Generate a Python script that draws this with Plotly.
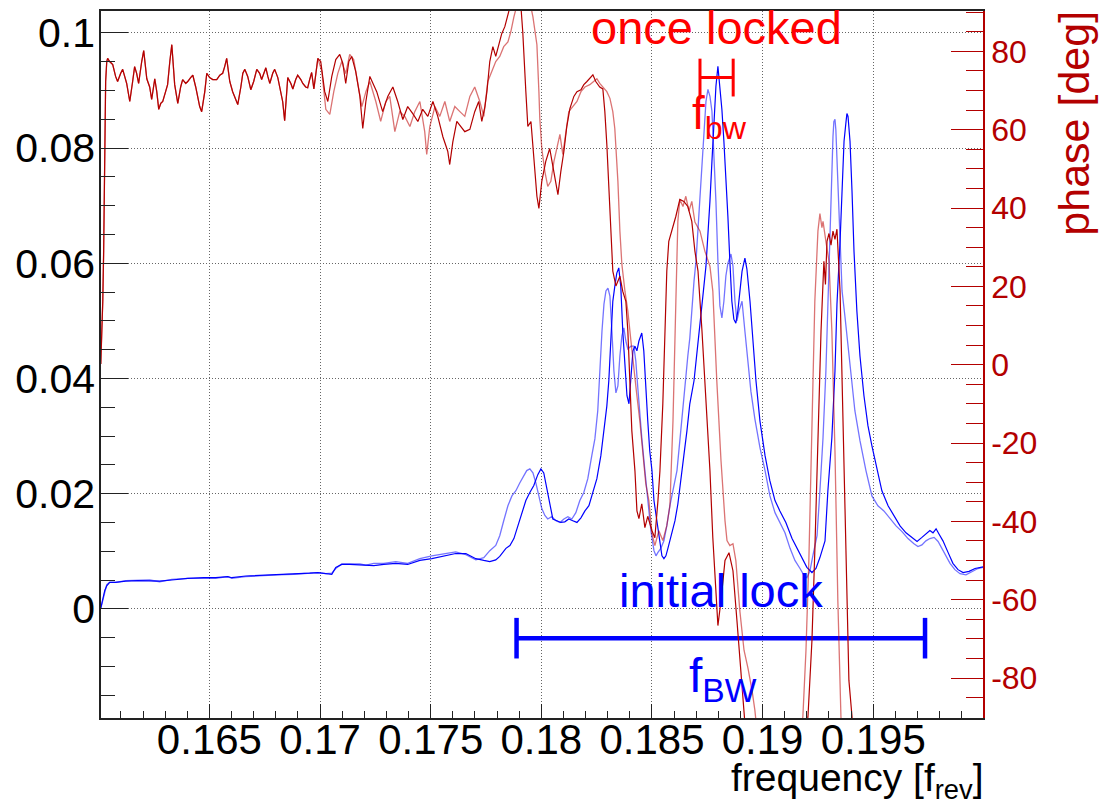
import plotly.graph_objects as go

# ---------------- magnitude of the transfer function (left axis) ----------------
mag_run1_freq = [
    0.16009, 0.16018, 0.16027, 0.16036, 0.16049, 0.16076, 0.16122, 0.16176, 0.16230, 0.16275,
    0.16330, 0.16402, 0.16474, 0.16528, 0.16583, 0.16601, 0.16664, 0.16736, 0.16809, 0.16881,
    0.16953, 0.16990, 0.17026, 0.17053, 0.17071, 0.17098, 0.17134, 0.17180, 0.17207, 0.17243,
    0.17288, 0.17342, 0.17396, 0.17451, 0.17505, 0.17559, 0.17613, 0.17659, 0.17704, 0.17740,
    0.17767, 0.17794, 0.17812, 0.17830, 0.17849, 0.17867, 0.17885, 0.17903, 0.17921, 0.17934,
    0.17948, 0.17962, 0.17975, 0.17989, 0.18002, 0.18016, 0.18029, 0.18047, 0.18066, 0.18084,
    0.18102, 0.18120, 0.18138, 0.18156, 0.18174, 0.18192, 0.18210, 0.18228, 0.18242, 0.18255,
    0.18264, 0.18274, 0.18283, 0.18292, 0.18301, 0.18310, 0.18319, 0.18328, 0.18337, 0.18346,
    0.18355, 0.18364, 0.18373, 0.18382, 0.18391, 0.18405, 0.18418, 0.18427, 0.18436, 0.18445,
    0.18454, 0.18468, 0.18481, 0.18495, 0.18509, 0.18518, 0.18527, 0.18540, 0.18554, 0.18567,
    0.18581, 0.18599, 0.18613, 0.18626, 0.18640, 0.18653, 0.18662, 0.18671, 0.18680, 0.18690,
    0.18699, 0.18708, 0.18717, 0.18726, 0.18735, 0.18744, 0.18753, 0.18762, 0.18771, 0.18780,
    0.18789, 0.18798, 0.18807, 0.18816, 0.18825, 0.18834, 0.18843, 0.18857, 0.18866, 0.18875,
    0.18884, 0.18893, 0.18907, 0.18920, 0.18934, 0.18947, 0.18965, 0.18988, 0.19011, 0.19033,
    0.19056, 0.19078, 0.19101, 0.19124, 0.19146, 0.19169, 0.19187, 0.19200, 0.19214, 0.19227,
    0.19236, 0.19246, 0.19259, 0.19273, 0.19286, 0.19295, 0.19304, 0.19309, 0.19313, 0.19318,
    0.19322, 0.19327, 0.19331, 0.19340, 0.19350, 0.19359, 0.19372, 0.19386, 0.19399, 0.19417,
    0.19440, 0.19467, 0.19494, 0.19521, 0.19548, 0.19576, 0.19603, 0.19630, 0.19657, 0.19684,
    0.19702, 0.19720, 0.19738, 0.19756, 0.19775, 0.19793, 0.19811, 0.19829, 0.19847, 0.19869,
    0.19892, 0.19919, 0.19946, 0.19973, 0.19996,
]
mag_run1 = [
    0.0001, 0.0014, 0.0032, 0.0042, 0.0046, 0.0046, 0.0049, 0.0050, 0.0050, 0.0047,
    0.0051, 0.0053, 0.0053, 0.0053, 0.0056, 0.0053, 0.0056, 0.0058, 0.0059, 0.0060,
    0.0062, 0.0063, 0.0061, 0.0062, 0.0070, 0.0078, 0.0078, 0.0078, 0.0076, 0.0079,
    0.0079, 0.0082, 0.0079, 0.0087, 0.0092, 0.0096, 0.0099, 0.0094, 0.0085, 0.0089,
    0.0101, 0.0110, 0.0127, 0.0153, 0.0179, 0.0196, 0.0205, 0.0219, 0.0231, 0.0240,
    0.0243, 0.0236, 0.0219, 0.0196, 0.0174, 0.0162, 0.0156, 0.0160, 0.0153, 0.0150,
    0.0156, 0.0160, 0.0156, 0.0167, 0.0188, 0.0202, 0.0226, 0.0266, 0.0295, 0.0344,
    0.0413, 0.0482, 0.0529, 0.0552, 0.0557, 0.0543, 0.0482, 0.0413, 0.0375, 0.0387,
    0.0439, 0.0474, 0.0488, 0.0465, 0.0451, 0.0456, 0.0456, 0.0430, 0.0384, 0.0335,
    0.0297, 0.0240, 0.0188, 0.0136, 0.0101, 0.0092, 0.0098, 0.0105, 0.0118, 0.0144,
    0.0179, 0.0214, 0.0240, 0.0292, 0.0352, 0.0404, 0.0439, 0.0470, 0.0526, 0.0569,
    0.0604, 0.0656, 0.0708, 0.0777, 0.0829, 0.0881, 0.0902, 0.0890, 0.0864, 0.0794,
    0.0708, 0.0604, 0.0526, 0.0505, 0.0534, 0.0578, 0.0600, 0.0616, 0.0595, 0.0534,
    0.0500, 0.0517, 0.0534, 0.0482, 0.0430, 0.0378, 0.0330, 0.0280, 0.0240, 0.0196,
    0.0167, 0.0150, 0.0132, 0.0105, 0.0084, 0.0070, 0.0058, 0.0054, 0.0066, 0.0092,
    0.0110, 0.0127, 0.0205, 0.0297, 0.0413, 0.0529, 0.0621, 0.0708, 0.0777, 0.0820,
    0.0846, 0.0850, 0.0832, 0.0742, 0.0621, 0.0552, 0.0508, 0.0456, 0.0404, 0.0344,
    0.0292, 0.0240, 0.0196, 0.0179, 0.0170, 0.0156, 0.0144, 0.0134, 0.0122, 0.0113,
    0.0108, 0.0111, 0.0118, 0.0122, 0.0124, 0.0117, 0.0105, 0.0091, 0.0079, 0.0068,
    0.0061, 0.0059, 0.0065, 0.0070, 0.0072,
]

mag_run2_freq = [
    0.16009, 0.16018, 0.16027, 0.16036, 0.16049, 0.16076, 0.16122, 0.16176, 0.16230, 0.16275,
    0.16330, 0.16402, 0.16474, 0.16528, 0.16583, 0.16601, 0.16664, 0.16736, 0.16809, 0.16881,
    0.16953, 0.16990, 0.17026, 0.17053, 0.17071, 0.17098, 0.17134, 0.17180, 0.17207, 0.17243,
    0.17288, 0.17342, 0.17396, 0.17451, 0.17505, 0.17559, 0.17613, 0.17659, 0.17704, 0.17740,
    0.17767, 0.17794, 0.17812, 0.17840, 0.17858, 0.17876, 0.17894, 0.17912, 0.17930, 0.17948,
    0.17966, 0.17984, 0.17998, 0.18011, 0.18025, 0.18038, 0.18052, 0.18070, 0.18088, 0.18106,
    0.18124, 0.18142, 0.18161, 0.18179, 0.18197, 0.18215, 0.18233, 0.18251, 0.18269, 0.18283,
    0.18296, 0.18305, 0.18314, 0.18323, 0.18332, 0.18341, 0.18350, 0.18359, 0.18368, 0.18378,
    0.18387, 0.18396, 0.18405, 0.18414, 0.18423, 0.18432, 0.18441, 0.18454, 0.18463, 0.18472,
    0.18481, 0.18490, 0.18500, 0.18509, 0.18518, 0.18527, 0.18536, 0.18545, 0.18554, 0.18563,
    0.18572, 0.18581, 0.18590, 0.18604, 0.18617, 0.18631, 0.18644, 0.18658, 0.18671, 0.18690,
    0.18703, 0.18717, 0.18730, 0.18744, 0.18753, 0.18762, 0.18771, 0.18780, 0.18789, 0.18798,
    0.18807, 0.18816, 0.18825, 0.18834, 0.18843, 0.18852, 0.18861, 0.18870, 0.18879, 0.18888,
    0.18897, 0.18907, 0.18920, 0.18929, 0.18943, 0.18956, 0.18970, 0.18988, 0.19011, 0.19033,
    0.19056, 0.19078, 0.19105, 0.19133, 0.19155, 0.19178, 0.19200, 0.19223, 0.19241, 0.19259,
    0.19273, 0.19282, 0.19295, 0.19313, 0.19327, 0.19336, 0.19350, 0.19359, 0.19368, 0.19377,
    0.19381, 0.19386, 0.19395, 0.19404, 0.19413, 0.19426, 0.19440, 0.19458, 0.19476, 0.19494,
    0.19517, 0.19539, 0.19567, 0.19594, 0.19621, 0.19648, 0.19675, 0.19698, 0.19720, 0.19738,
    0.19756, 0.19770, 0.19784, 0.19797, 0.19815, 0.19838, 0.19860, 0.19883, 0.19906, 0.19933,
    0.19960, 0.19996,
]
mag_run2 = [
    0.0001, 0.0018, 0.0032, 0.0040, 0.0046, 0.0046, 0.0048, 0.0049, 0.0049, 0.0048,
    0.0050, 0.0053, 0.0054, 0.0054, 0.0056, 0.0054, 0.0057, 0.0058, 0.0059, 0.0061,
    0.0062, 0.0063, 0.0062, 0.0060, 0.0072, 0.0077, 0.0077, 0.0076, 0.0075, 0.0075,
    0.0077, 0.0079, 0.0077, 0.0084, 0.0087, 0.0092, 0.0096, 0.0096, 0.0087, 0.0084,
    0.0082, 0.0085, 0.0091, 0.0105, 0.0110, 0.0122, 0.0144, 0.0170, 0.0188, 0.0202,
    0.0214, 0.0233, 0.0243, 0.0236, 0.0208, 0.0179, 0.0156, 0.0153, 0.0150, 0.0151,
    0.0156, 0.0153, 0.0150, 0.0158, 0.0170, 0.0179, 0.0202, 0.0226, 0.0266, 0.0309,
    0.0352, 0.0396, 0.0465, 0.0534, 0.0560, 0.0583, 0.0592, 0.0560, 0.0482, 0.0413,
    0.0370, 0.0356, 0.0396, 0.0448, 0.0456, 0.0448, 0.0465, 0.0479, 0.0448, 0.0378,
    0.0326, 0.0274, 0.0240, 0.0188, 0.0162, 0.0136, 0.0110, 0.0092, 0.0087, 0.0092,
    0.0105, 0.0118, 0.0130, 0.0153, 0.0182, 0.0222, 0.0266, 0.0309, 0.0356, 0.0396,
    0.0448, 0.0500, 0.0543, 0.0595, 0.0647, 0.0708, 0.0777, 0.0846, 0.0907, 0.0942,
    0.0903, 0.0867, 0.0812, 0.0751, 0.0682, 0.0604, 0.0534, 0.0503, 0.0496, 0.0517,
    0.0552, 0.0586, 0.0609, 0.0590, 0.0534, 0.0465, 0.0396, 0.0326, 0.0266, 0.0222,
    0.0188, 0.0170, 0.0150, 0.0122, 0.0106, 0.0089, 0.0072, 0.0063, 0.0070, 0.0089,
    0.0105, 0.0118, 0.0205, 0.0297, 0.0413, 0.0529, 0.0638, 0.0742, 0.0812, 0.0846,
    0.0860, 0.0855, 0.0812, 0.0725, 0.0621, 0.0517, 0.0439, 0.0370, 0.0318, 0.0283,
    0.0240, 0.0205, 0.0179, 0.0162, 0.0144, 0.0132, 0.0124, 0.0117, 0.0124, 0.0130,
    0.0136, 0.0132, 0.0139, 0.0130, 0.0118, 0.0098, 0.0079, 0.0068, 0.0063, 0.0065,
    0.0070, 0.0073,
]

# ---------------- phase (right axis, degrees) ----------------
# both sweeps coincide below 0.170 f_rev
phase_start_freq = [
    0.16009, 0.16013, 0.16018, 0.16022, 0.16027, 0.16031, 0.16036, 0.16040, 0.16049, 0.16063,
    0.16076, 0.16085, 0.16099, 0.16108, 0.16126, 0.16140, 0.16153, 0.16162, 0.16171, 0.16180,
    0.16194, 0.16203, 0.16217, 0.16230, 0.16239, 0.16253, 0.16262, 0.16271, 0.16280, 0.16289,
    0.16302, 0.16311, 0.16321, 0.16330, 0.16343, 0.16357, 0.16370, 0.16379, 0.16393, 0.16402,
    0.16415, 0.16425, 0.16438, 0.16447, 0.16456, 0.16465, 0.16479, 0.16488, 0.16501, 0.16515,
    0.16533, 0.16547, 0.16560, 0.16569, 0.16578, 0.16592, 0.16605, 0.16619, 0.16628, 0.16642,
    0.16651, 0.16660, 0.16673, 0.16687, 0.16700, 0.16714, 0.16727, 0.16736, 0.16745, 0.16755,
    0.16764, 0.16773, 0.16786, 0.16795, 0.16809, 0.16818, 0.16831, 0.16840, 0.16849, 0.16854,
    0.16868, 0.16877, 0.16890, 0.16899, 0.16913, 0.16922, 0.16935, 0.16944, 0.16953, 0.16962,
    0.16972, 0.16981, 0.16990,
]
phase_start = [
    0.2, 6.0, 16.2, 29.0, 54.5, 72.3, 77.4, 78.2, 77.4, 76.6,
    73.6, 72.3, 74.4, 75.4, 71.8, 67.2, 72.3, 76.1, 74.4, 71.8,
    77.4, 80.2, 73.0, 70.9, 67.7, 73.0, 69.7, 65.2, 66.7, 67.2,
    69.7, 71.5, 77.4, 81.7, 71.5, 66.7, 70.9, 72.8, 71.8, 72.3,
    73.3, 73.9, 70.9, 68.0, 65.9, 64.6, 69.7, 74.4, 73.3, 72.8,
    72.8, 73.9, 74.4, 76.1, 78.2, 72.3, 69.7, 67.7, 66.4, 70.9,
    74.4, 75.4, 73.6, 70.2, 72.3, 75.4, 74.4, 72.8, 74.4, 75.8,
    73.6, 71.8, 74.4, 75.4, 73.3, 70.9, 67.2, 62.3, 68.5, 73.3,
    71.8, 70.4, 72.8, 73.9, 72.8, 71.8, 70.9, 70.7, 72.8, 74.6,
    70.4, 74.9, 78.2,
]

phase_run1_freq = [
    0.17008, 0.17026, 0.17044, 0.17062, 0.17080, 0.17098, 0.17116, 0.17134, 0.17152, 0.17170,
    0.17189, 0.17207, 0.17225, 0.17252, 0.17274, 0.17297, 0.17315, 0.17338, 0.17360, 0.17383,
    0.17406, 0.17428, 0.17451, 0.17473, 0.17482, 0.17496, 0.17519, 0.17541, 0.17564, 0.17586,
    0.17609, 0.17632, 0.17654, 0.17677, 0.17699, 0.17722, 0.17740, 0.17758, 0.17776, 0.17794,
    0.17812, 0.17830, 0.17849, 0.17862, 0.17876, 0.17889, 0.17903, 0.17930, 0.17948, 0.17962,
    0.17971, 0.17980, 0.17989, 0.17993, 0.18002, 0.18016, 0.18029, 0.18043, 0.18057, 0.18070,
    0.18084, 0.18097, 0.18111, 0.18124, 0.18142, 0.18161, 0.18179, 0.18197, 0.18219, 0.18237,
    0.18251, 0.18264, 0.18278, 0.18296, 0.18310, 0.18323, 0.18332, 0.18346, 0.18355, 0.18364,
    0.18378, 0.18391, 0.18405, 0.18418, 0.18432, 0.18445, 0.18459, 0.18472, 0.18486, 0.18500,
    0.18513, 0.18531, 0.18549, 0.18567, 0.18581, 0.18595, 0.18608, 0.18617, 0.18626, 0.18640,
    0.18653, 0.18667, 0.18680, 0.18694, 0.18717, 0.18739, 0.18762, 0.18775, 0.18793, 0.18812,
    0.18830, 0.18839, 0.18852, 0.18866, 0.18879, 0.18897, 0.18916, 0.18934, 0.18952, 0.18965,
    0.18979, 0.18997, 0.19146, 0.19169, 0.19182, 0.19196, 0.19209, 0.19223, 0.19236, 0.19250,
    0.19259, 0.19268, 0.19273, 0.19286, 0.19300, 0.19313, 0.19327, 0.19340, 0.19354, 0.19372,
]
phase_run1 = [
    74.9, 65.2, 63.9, 69.7, 74.3, 77.4, 74.3, 79.2, 77.9, 72.3,
    65.9, 69.7, 72.3, 67.2, 62.1, 67.2, 68.5, 59.5, 64.6, 63.4,
    60.8, 64.6, 67.2, 59.5, 53.7, 60.8, 65.9, 63.4, 67.2, 62.1,
    65.9, 64.6, 63.4, 68.5, 70.9, 67.2, 63.4, 72.3, 74.9, 77.4,
    78.7, 81.2, 82.4, 85.0, 88.8, 91.9, 94.7, 94.7, 92.7, 88.8,
    85.0, 81.7, 69.7, 62.9, 55.2, 49.3, 45.5, 46.8, 51.9, 55.2,
    58.8, 53.7, 59.5, 64.6, 65.9, 67.2, 69.7, 70.9, 71.5, 72.3,
    73.0, 71.8, 70.9, 69.7, 68.0, 64.6, 60.3, 46.8, 34.1, 25.6,
    18.7, 13.7, 6.0, -1.6, -8.0, -14.3, -22.0, -30.4, -34.7, -43.1,
    -46.2, -42.4, -44.9, -41.1, -36.0, -14.3, 16.2, 36.6, 42.2, 40.4,
    43.0, 39.2, 41.7, 36.4, 34.1, 29.0, 25.1, 18.8, -4.2, -24.5,
    -39.8, -44.9, -46.2, -45.7, -50.0, -62.8, -72.9, -77.5, -83.1, -88.2,
    -95.9, -111.2, -111.2, -95.9, -89.8, -72.9, -50.0, -14.3, 16.2, 34.1,
    38.6, 35.0, 36.6, 31.5, 26.4, 8.6, -22.0, -60.2, -89.8, -111.2,
]

phase_run2_freq = [
    0.17003, 0.17021, 0.17035, 0.17053, 0.17071, 0.17089, 0.17103, 0.17116, 0.17130, 0.17143,
    0.17161, 0.17180, 0.17193, 0.17207, 0.17225, 0.17256, 0.17283, 0.17306, 0.17329, 0.17351,
    0.17374, 0.17396, 0.17419, 0.17442, 0.17464, 0.17487, 0.17510, 0.17532, 0.17555, 0.17577,
    0.17586, 0.17600, 0.17618, 0.17636, 0.17654, 0.17677, 0.17699, 0.17717, 0.17731, 0.17745,
    0.17754, 0.17767, 0.17781, 0.17794, 0.17808, 0.17821, 0.17835, 0.17849, 0.17862, 0.17876,
    0.17903, 0.17916, 0.17930, 0.17939, 0.17953, 0.17966, 0.17980, 0.17989, 0.18002, 0.18020,
    0.18038, 0.18052, 0.18066, 0.18075, 0.18088, 0.18102, 0.18115, 0.18129, 0.18147, 0.18161,
    0.18179, 0.18192, 0.18206, 0.18219, 0.18233, 0.18246, 0.18264, 0.18278, 0.18287, 0.18296,
    0.18305, 0.18314, 0.18323, 0.18337, 0.18355, 0.18368, 0.18382, 0.18391, 0.18400, 0.18409,
    0.18423, 0.18432, 0.18441, 0.18454, 0.18468, 0.18481, 0.18500, 0.18513, 0.18527, 0.18536,
    0.18549, 0.18558, 0.18567, 0.18576, 0.18590, 0.18608, 0.18626, 0.18644, 0.18662, 0.18680,
    0.18694, 0.18708, 0.18726, 0.18744, 0.18762, 0.18775, 0.18789, 0.18798, 0.18812, 0.18830,
    0.18848, 0.18866, 0.18884, 0.18902, 0.18920, 0.18934, 0.18947, 0.19169, 0.19191, 0.19205,
    0.19223, 0.19236, 0.19250, 0.19264, 0.19277, 0.19284, 0.19291, 0.19300, 0.19309, 0.19318,
    0.19327, 0.19336, 0.19350, 0.19363, 0.19377, 0.19390, 0.19404, 0.19422,
]
phase_run2 = [
    77.4, 69.7, 67.2, 73.6, 77.9, 79.2, 76.9, 71.8, 77.4, 78.7,
    74.9, 68.5, 60.3, 67.2, 73.6, 69.7, 64.6, 68.5, 70.9, 67.2,
    62.6, 65.9, 64.1, 62.1, 65.2, 63.4, 67.2, 63.4, 58.2, 54.5,
    51.1, 56.9, 62.1, 60.8, 59.5, 60.1, 64.6, 67.2, 62.1, 65.9,
    69.7, 77.4, 81.2, 78.7, 81.9, 84.5, 86.3, 89.6, 91.9, 95.2,
    95.2, 85.0, 69.7, 60.8, 62.1, 51.9, 43.0, 39.9, 46.8, 51.9,
    55.2, 50.7, 45.5, 43.4, 49.3, 54.5, 60.8, 65.4, 68.5, 69.7,
    70.2, 71.5, 72.3, 73.0, 74.0, 72.3, 70.9, 70.4, 64.6, 56.2,
    44.2, 31.5, 23.9, 20.1, 22.6, 18.7, 16.2, 8.6, -4.2, -16.9,
    -27.1, -37.3, -39.3, -35.5, -41.6, -38.7, -42.4, -44.2, -34.7, -27.1,
    -10.0, 6.8, 23.9, 31.5, 34.1, 37.9, 42.2, 41.7, 40.4, 36.6,
    29.0, 23.9, 8.6, -9.3, -27.1, -44.2, -57.7, -66.6, -60.2, -50.0,
    -48.0, -52.6, -65.3, -78.0, -89.8, -101.0, -111.2, -111.2, -95.9, -89.8,
    -70.4, -47.5, -16.9, 8.6, 26.4, 20.5, 31.5, 33.5, 30.5, 34.1,
    32.0, 34.6, 18.8, -14.3, -50.0, -80.6, -89.8, -111.2,
]

# ---------------- feedback bandwidths ----------------
bw_initial = [0.17888, 0.19734]   # f_BW, initial lock
bw_locked = [0.18717, 0.18867]    # f_bw, once locked
bw_initial_level = -0.0051
bw_locked_level = 0.09225

x_ticks = [0.165, 0.17, 0.175, 0.18, 0.185, 0.19, 0.195]
x_labels = ["0.165", "0.17", "0.175", "0.18", "0.185", "0.19", "0.195"]
mag_ticks = [0, 0.02, 0.04, 0.06, 0.08, 0.1]
mag_labels = ["0", "0.02", "0.04", "0.06", "0.08", "0.1"]
phase_ticks = [-80, -60, -40, -20, 0, 20, 40, 60, 80]
phase_labels = ["-80", "-60", "-40", "-20", "0", "20", "40", "60", "80"]

DARK_RED = "#b30000"
AXIS = "#222222"
GRID = "#666666"
FONT = "Liberation Sans, Arial, Helvetica, sans-serif"

fig = go.Figure()

# phase traces (drawn first, underneath)
fig.add_trace(go.Scatter(
    x=phase_start_freq + phase_run1_freq, y=phase_start + phase_run1,
    mode="lines", line=dict(color="rgba(190,0,0,0.55)", width=1.3),
    yaxis="y2", hoverinfo="skip"))
fig.add_trace(go.Scatter(
    x=phase_start_freq + phase_run2_freq, y=phase_start + phase_run2,
    mode="lines", line=dict(color=DARK_RED, width=1.2),
    yaxis="y2", hoverinfo="skip"))

# magnitude traces
fig.add_trace(go.Scatter(
    x=mag_run1_freq, y=mag_run1, mode="lines",
    line=dict(color="rgba(0,0,255,0.55)", width=1.3), hoverinfo="skip"))
fig.add_trace(go.Scatter(
    x=mag_run2_freq, y=mag_run2, mode="lines",
    line=dict(color="#0000ff", width=1.2), hoverinfo="skip"))

# bandwidth markers
fig.add_trace(go.Scatter(
    x=bw_initial, y=[bw_initial_level] * 2, mode="lines+markers",
    line=dict(color="#0000ff", width=4.5),
    marker=dict(symbol="line-ns", size=29, line=dict(color="#0000ff", width=4.5)),
    hoverinfo="skip"))
fig.add_trace(go.Scatter(
    x=bw_locked, y=[bw_locked_level] * 2, mode="lines+markers",
    line=dict(color="#ff0000", width=3),
    marker=dict(symbol="line-ns", size=27, line=dict(color="#ff0000", width=3)),
    hoverinfo="skip"))

fig.add_annotation(x=bw_locked[0] - 0.00500, y=0.1010, xref="x", yref="y",
                   text="once locked", showarrow=False, xanchor="left", yanchor="middle",
                   font=dict(family=FONT, size=47, color="#ff0000"))
fig.add_annotation(x=bw_locked[0] - 0.00045, y=0.0910, xref="x", yref="y",
                   text="f<sub>bw</sub>", showarrow=False, xanchor="left", yanchor="top",
                   font=dict(family=FONT, size=46, color="#ff0000"))
fig.add_annotation(x=0.18340, y=0.0031, xref="x", yref="y",
                   text="initial lock", showarrow=False, xanchor="left", yanchor="middle",
                   font=dict(family=FONT, size=47, color="#0000ff"))
fig.add_annotation(x=0.18660, y=-0.0066, xref="x", yref="y",
                   text="f<sub>BW</sub>", showarrow=False, xanchor="left", yanchor="top",
                   font=dict(family=FONT, size=48, color="#0000ff"))

# axis titles
fig.add_annotation(x=1.1035, y=1.003, xref="paper", yref="paper",
                   text="phase [deg]", textangle=-90, showarrow=False,
                   xanchor="center", yanchor="top",
                   font=dict(family=FONT, size=43, color=DARK_RED))
fig.add_annotation(x=1.003, y=-0.0890, xref="paper", yref="paper",
                   text="frequency [f<sub>rev</sub>]", showarrow=False,
                   xanchor="right", yanchor="middle",
                   font=dict(family=FONT, size=39, color="black"))

fig.update_layout(
    width=1109, height=806,
    margin=dict(l=101, r=126, t=9, b=88, pad=0),
    paper_bgcolor="white", plot_bgcolor="white",
    showlegend=False,
    font=dict(family=FONT, color="black"),
    xaxis=dict(
        range=[0.16010, 0.19996], tickvals=x_ticks, ticktext=x_labels, tickangle=0,
        ticks="inside", ticklen=14, tickwidth=1, tickcolor=AXIS,
        showline=True, linecolor=AXIS, linewidth=1.5, mirror=True,
        showgrid=True, gridcolor=GRID, griddash="1px,2px", gridwidth=1,
        zeroline=False, tickfont=dict(size=42, color="black"),
        ticklabelstandoff=-16,
        minor=dict(dtick=0.001, tick0=0.16, ticks="inside", ticklen=7,
                   tickcolor=AXIS, showgrid=False),
    ),
    yaxis=dict(
        range=[-0.01896, 0.10381], tickvals=mag_ticks, ticktext=mag_labels,
        ticks="inside", ticklen=27, tickwidth=1, tickcolor=AXIS,
        showline=True, linecolor=AXIS, linewidth=1.5, mirror=False,
        showgrid=True, gridcolor=GRID, griddash="1px,2px", gridwidth=1,
        zeroline=False, tickfont=dict(size=41, color="black"),
        ticklabelstandoff=-4,
        minor=dict(dtick=0.005, tick0=0, ticks="inside", ticklen=14,
                   tickcolor=AXIS, showgrid=False),
    ),
    yaxis2=dict(
        overlaying="y", side="right", range=[-90.2, 90.3],
        tickvals=phase_ticks, ticktext=phase_labels,
        ticks="inside", ticklen=32, tickwidth=1, tickcolor=DARK_RED,
        showline=True, linecolor=DARK_RED, linewidth=1.5,
        showgrid=False, zeroline=False,
        tickfont=dict(size=32, color=DARK_RED), ticklabelstandoff=0,
        minor=dict(dtick=5, tick0=0, ticks="inside", ticklen=17,
                   tickcolor=DARK_RED, showgrid=False),
    ),
)

fig.write_html("out.html", config={"displayModeBar": False})
